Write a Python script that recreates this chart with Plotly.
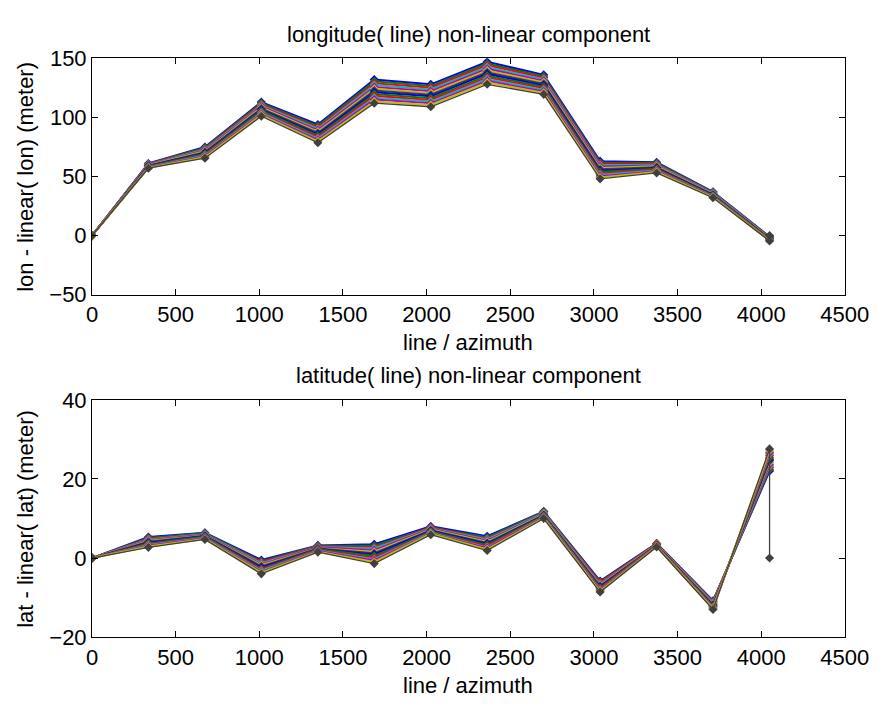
import plotly.graph_objects as go

# azimuth line positions
line_x = [0, 337, 675, 1012, 1350, 1687, 2025, 2362, 2700, 3037, 3375, 3712, 4050]
# extra final point of the last series (returns to zero)
last_x_extra = 4050

# longitude non-linear component (meter), one list per range column
lon_series = [
    [0, 61.0, 75.0, 113.0, 94.0, 132.0, 128.0, 147.0, 136.0, 63.0, 62.0, 37.0, -1.0],
    [0, 60.7, 74.3, 112.1, 92.8, 130.5, 126.5, 145.6, 134.7, 61.8, 61.4, 36.6, -1.3],
    [0, 60.4, 73.5, 111.2, 91.6, 128.9, 125.1, 144.1, 133.5, 60.7, 60.6, 36.2, -1.5],
    [0, 60.1, 72.8, 110.2, 90.4, 127.4, 123.6, 142.6, 132.2, 59.5, 59.9, 35.9, -1.8],
    [0, 59.8, 72.1, 109.3, 89.2, 125.8, 122.2, 141.2, 130.9, 58.4, 59.2, 35.5, -2.1],
    [0, 59.5, 71.3, 108.4, 88.0, 124.3, 120.7, 139.7, 129.7, 57.2, 58.6, 35.1, -2.3],
    [0, 59.2, 70.6, 107.5, 86.8, 122.8, 119.2, 138.2, 128.4, 56.1, 57.9, 34.7, -2.6],
    [0, 58.9, 69.9, 106.5, 85.7, 121.2, 117.8, 136.8, 127.1, 54.9, 57.2, 34.3, -2.9],
    [0, 58.5, 69.2, 105.6, 84.5, 119.7, 116.3, 135.3, 125.8, 53.8, 56.5, 33.9, -3.1],
    [0, 58.2, 68.4, 104.7, 83.3, 118.2, 114.8, 133.8, 124.6, 52.6, 55.8, 33.5, -3.4],
    [0, 57.9, 67.7, 103.8, 82.1, 116.6, 113.4, 132.4, 123.3, 51.5, 55.1, 33.2, -3.7],
    [0, 57.6, 67.0, 102.8, 80.9, 115.1, 111.9, 130.9, 122.0, 50.3, 54.4, 32.8, -3.9],
    [0, 57.3, 66.2, 101.9, 79.7, 113.5, 110.5, 129.5, 120.8, 49.2, 53.7, 32.4, -4.2],
    [0, 57.0, 65.5, 101.0, 78.5, 112.0, 109.0, 128.0, 119.5, 48.0, 53.0, 32.0, -4.5, 0],
]

# latitude non-linear component (meter)
lat_series = [
    [0, 5.3, 6.4, -0.5, 3.2, 3.5, 8.0, 5.5, 11.8, -5.8, 3.7, -10.8, 22.0],
    [0, 5.1, 6.3, -0.8, 3.1, 3.1, 7.8, 5.2, 11.7, -6.0, 3.6, -11.0, 22.4],
    [0, 4.9, 6.1, -1.0, 2.9, 2.7, 7.7, 4.9, 11.5, -6.2, 3.6, -11.1, 22.9],
    [0, 4.7, 6.0, -1.3, 2.8, 2.4, 7.5, 4.7, 11.4, -6.5, 3.5, -11.3, 23.3],
    [0, 4.5, 5.9, -1.6, 2.7, 2.0, 7.4, 4.4, 11.2, -6.7, 3.4, -11.5, 23.7],
    [0, 4.3, 5.7, -1.8, 2.5, 1.6, 7.2, 4.1, 11.1, -6.9, 3.4, -11.6, 24.2],
    [0, 4.1, 5.6, -2.1, 2.4, 1.2, 7.0, 3.8, 10.9, -7.1, 3.3, -11.8, 24.6],
    [0, 3.9, 5.5, -2.4, 2.3, 0.9, 6.9, 3.6, 10.8, -7.3, 3.2, -12.0, 25.0],
    [0, 3.7, 5.4, -2.7, 2.2, 0.5, 6.7, 3.3, 10.7, -7.5, 3.2, -12.2, 25.4],
    [0, 3.5, 5.2, -2.9, 2.0, 0.1, 6.5, 3.0, 10.5, -7.7, 3.1, -12.3, 25.9],
    [0, 3.3, 5.1, -3.2, 1.9, -0.3, 6.4, 2.7, 10.4, -8.0, 3.0, -12.5, 26.3],
    [0, 3.1, 5.0, -3.5, 1.8, -0.6, 6.2, 2.5, 10.3, -8.2, 3.0, -12.7, 26.7],
    [0, 2.9, 4.8, -3.7, 1.6, -1.0, 6.1, 2.2, 10.1, -8.4, 2.9, -12.8, 27.2],
    [0, 2.7, 4.7, -4.0, 1.5, -1.4, 5.9, 1.9, 10.0, -8.6, 2.8, -13.0, 27.6, 0],
]

x_ticks = [0, 500, 1000, 1500, 2000, 2500, 3000, 3500, 4000, 4500]
lon_ticks = [-50, 0, 50, 100, 150]
lat_ticks = [-20, 0, 20, 40]

color_order = ["rgb(0,0,255)", "rgb(0,128,0)", "rgb(255,0,0)", "rgb(0,191,191)",
               "rgb(191,0,191)", "rgb(191,191,0)", "rgb(64,64,64)"]

FONT = "Liberation Sans, Arial, sans-serif"
W, H = 893, 709

fig = go.Figure()


def xs_for(vals):
    return line_x + [last_x_extra] * (len(vals) - len(line_x))


def add_group(series, xa, ya):
    n = len(series)
    for i, vals in enumerate(series):
        c = color_order[i % len(color_order)]
        w = 1.3 if i == n - 1 else 2.0
        fig.add_trace(go.Scatter(x=xs_for(vals), y=vals, mode="lines+markers",
                                 line=dict(color=c, width=w),
                                 marker=dict(symbol="diamond", size=7, color=c),
                                 xaxis=xa, yaxis=ya, showlegend=False))


add_group(lon_series, "x", "y")
add_group(lat_series, "x2", "y2")

L, R = 89, 868
T1, B1 = 48, 293
T2, B2 = 402, 648
xdom = [L / W, R / W]

axis_common = dict(showline=True, linecolor="black", linewidth=1, mirror="ticks",
                   ticks="inside", ticklen=6, tickcolor="black", showgrid=False,
                   zeroline=False, tickfont=dict(family=FONT, size=22, color="black"))

fig.update_layout(
    width=W, height=H,
    margin=dict(l=0, r=0, t=0, b=0),
    paper_bgcolor="white", plot_bgcolor="white",
    xaxis=dict(domain=xdom, range=[0, 4500], tickvals=x_ticks, anchor="y", **axis_common),
    yaxis=dict(domain=[1 - B1 / H, 1 - T1 / H], range=[-50, 150], tickvals=lon_ticks,
               anchor="x", **axis_common),
    xaxis2=dict(domain=xdom, range=[0, 4500], tickvals=x_ticks, anchor="y2", **axis_common),
    yaxis2=dict(domain=[1 - B2 / H, 1 - T2 / H], range=[-20, 40], tickvals=lat_ticks,
                anchor="x2", **axis_common),
)

cx = (L + R) / 2 / W
tfont = dict(family=FONT, size=22, color="black")
ann = [
    ("longitude( line) non-linear component", cx, 1 - 23 / H, 0),
    ("line / azimuth", cx, 1 - 343 / H, 0),
    ("lon - linear( lon) (meter)", 20 / W, 1 - (T1 + B1) / 2 / H, -90),
    ("latitude( line) non-linear component", cx, 1 - 377 / H, 0),
    ("line / azimuth", cx, 1 - 698 / H, 0),
    ("lat - linear( lat) (meter)", 20 / W, 1 - (T2 + B2) / 2 / H, -90),
]
for text, x, y, ang in ann:
    fig.add_annotation(text=text, x=x, y=y, xref="paper", yref="paper",
                       showarrow=False, xanchor="center", yanchor="middle",
                       textangle=ang, font=tfont)

fig.write_html("out.html")
